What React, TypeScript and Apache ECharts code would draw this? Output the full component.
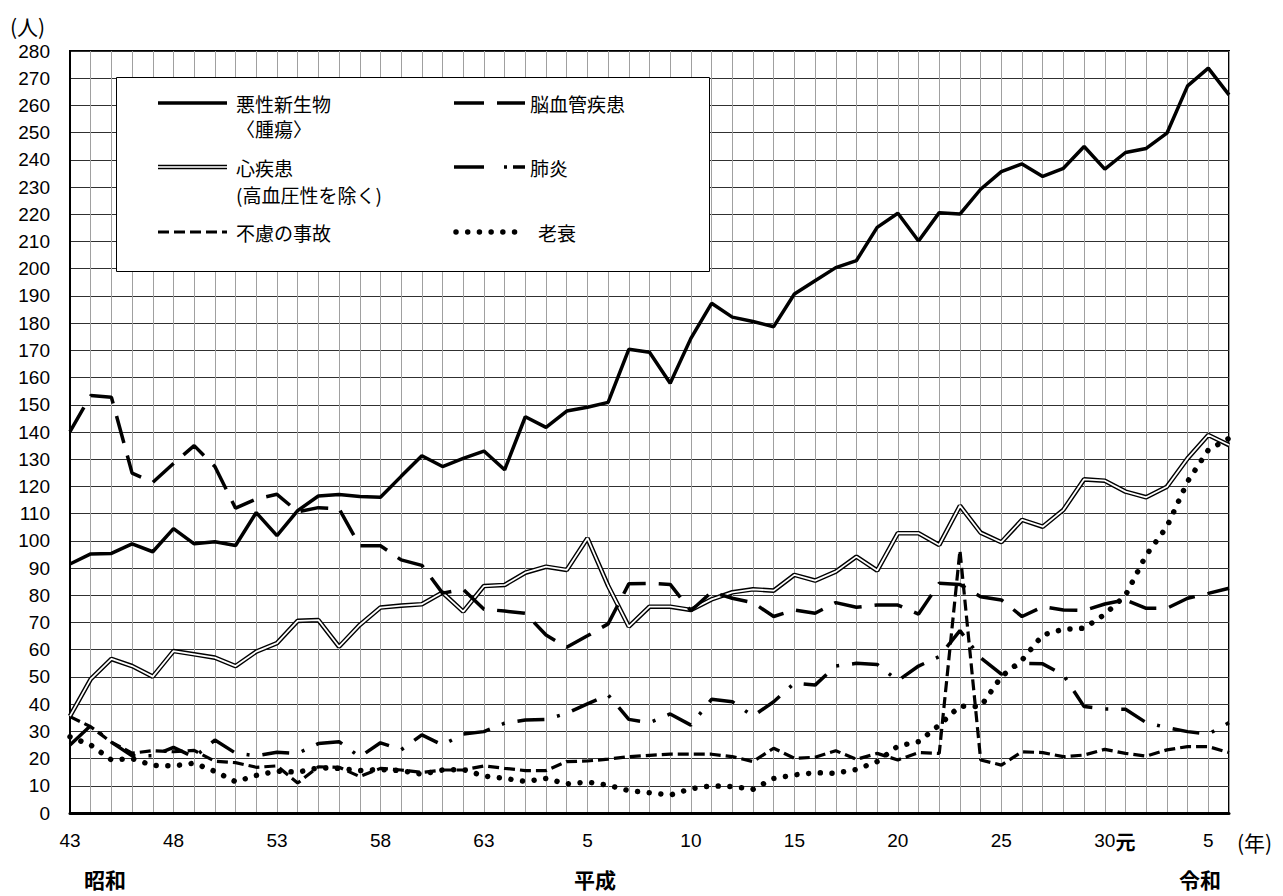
import React, { useEffect, useRef } from "react";
import * as echarts from "echarts";

// 昭和43年(1968) 〜 令和6年(2024)
const categories = [
  "43", "44", "45", "46", "47", "48", "49", "50", "51", "52", "53", "54", "55", "56", "57", "58", "59", "60", "61", "62", "63",
  "元", "2", "3", "4", "5", "6", "7", "8", "9", "10", "11", "12", "13", "14", "15", "16", "17", "18", "19", "20",
  "21", "22", "23", "24", "25", "26", "27", "28", "29", "30",
  "元", "2", "3", "4", "5", "6",
];

const shownLabelIndex = [0, 5, 10, 15, 20, 25, 30, 35, 40, 45, 50, 51, 55];

const akusei = [
  91.5, 95.2, 95.4, 98.9, 96.0, 104.5, 98.9, 99.7, 98.3, 110.4, 101.9, 111.1, 116.5, 117.0, 116.3, 116.0,
  123.7, 131.3, 127.3, 130.3, 133.0, 126.1, 145.6, 141.7, 147.7, 149.1, 150.9, 170.4, 169.3, 157.9, 174.4,
  187.3, 182.2, 180.6, 178.7, 190.7, 195.6, 200.4, 203.0, 215.2, 220.4, 210.2, 220.6, 220.1, 229.2, 235.7,
  238.5, 233.9, 236.9, 244.9, 236.6, 242.7, 244.2, 249.8, 267.2, 273.7, 263.9,
];

const nouKekkan = [
  140.1, 153.4, 152.8, 124.9, 121.5, 128.4, 135.0, 127.3, 112.0, 115.4, 117.1, 110.7, 112.2, 111.8, 98.2, 98.2,
  93.0, 91.0, 80.8, 82.2, 74.9, 74.2, 73.4, 65.4, 60.9, 65.1, 69.5, 84.2, 84.4, 84.0, 74.3, 81.2, 78.9, 77.3,
  72.2, 74.6, 73.4, 77.3, 75.6, 76.4, 76.4, 73.1, 84.4, 84.0, 79.5, 78.3, 72.2, 75.8, 74.6, 74.4, 76.8, 78.3,
  75.2, 75.2, 78.9, 80.7, 82.6,
];

const shinShikkan = [
  35.6, 49.2, 56.6, 54.0, 50.1, 59.5, 58.3, 57.1, 54.0, 59.3, 62.4, 70.6, 70.9, 61.1, 69.1, 75.5, 76.2, 76.7,
  81.0, 74.0, 83.4, 83.8, 88.3, 90.5, 89.3, 101.0, 83.5, 68.5, 75.8, 75.8, 74.6, 78.5, 81.1, 82.2, 81.7, 87.5,
  85.4, 88.7, 94.2, 89.1, 102.8, 102.8, 98.5, 112.9, 103.0, 99.5, 107.7, 105.2, 111.4, 122.6, 122.1, 118.1,
  116.0, 119.9, 130.3, 138.9, 135.2,
];

const haien = [
  25.0, 32.1, 26.0, 21.0, 21.0, 24.1, 20.5, 26.8, 22.0, 21.0, 22.3, 21.9, 25.5, 26.2, 20.6, 25.8, 23.2, 28.7,
  25.0, 29.0, 29.9, 33.0, 34.2, 34.4, 36.6, 40.1, 43.4, 34.4, 33.2, 36.4, 32.3, 41.8, 40.9, 35.6, 40.9, 47.7,
  47.0, 54.0, 55.0, 54.6, 48.6, 54.0, 57.5, 67.0, 57.0, 51.0, 55.0, 54.8, 50.7, 39.1, 38.2, 38.1, 33.2, 31.4,
  29.9, 29.0, 33.2,
];

const furyo = [
  35.4, 31.7, 26.0, 22.0, 22.9, 22.5, 23.0, 19.0, 18.5, 16.8, 17.3, 11.0, 17.0, 16.8, 13.4, 16.4, 15.8, 14.9,
  15.8, 15.8, 17.3, 16.4, 15.6, 15.6, 18.9, 19.1, 19.8, 20.7, 21.2, 21.6, 21.6, 21.6, 20.7, 18.9, 23.8, 20.1,
  20.5, 22.9, 19.7, 21.9, 19.5, 22.2, 21.9, 96.5, 19.5, 17.6, 22.5, 22.2, 20.7, 21.3, 23.4, 21.9, 20.9, 23.2,
  24.4, 24.4, 22.2,
];

const rousui = [
  28.0, 25.0, 19.5, 20.0, 17.5, 17.3, 18.3, 15.3, 11.5, 13.8, 15.4, 15.0, 16.6, 16.4, 15.6, 16.0, 15.6, 14.2,
  15.8, 16.0, 13.6, 12.7, 11.6, 12.7, 10.7, 11.4, 10.2, 8.2, 7.4, 6.6, 8.9, 10.0, 9.7, 8.7, 12.7, 14.0, 14.8,
  14.6, 16.0, 18.9, 24.6, 26.2, 32.3, 39.3, 39.1, 50.1, 56.2, 65.4, 67.5, 67.9, 73.0, 80.0, 94.8, 105.2, 121.8,
  133.4, 137.7,
];

const FONT_NUM = '"Liberation Sans", "Noto Sans CJK JP", sans-serif';
const FONT_JP = '"Noto Sans CJK JP", sans-serif';

const STYLE = {
  akusei: { color: "#000", width: 3.5, type: "solid" as any },
  nou: { color: "#000", width: 3.5, type: [28, 13], cap: "butt" },
  haien: { color: "#000", width: 3.5, type: [27, 13, 3, 13], cap: "butt" },
  furyo: { color: "#000", width: 3.2, type: [11, 5], cap: "butt" },
  rousui: { color: "#000", width: 5.5, type: [0.01, 11.7], cap: "round" },
};

export default function App() {
  const ref = useRef<HTMLDivElement>(null);

  useEffect(() => {
    const chart = echarts.init(ref.current as HTMLDivElement, null, { renderer: "svg" });

    const line = (name: string, data: number[], lineStyle: any, z: number) => ({
      type: "line",
      name,
      data,
      symbol: "none",
      silent: true,
      z,
      lineStyle,
    });

    const legendLine = (x1: number, x2: number, y: number, st: any) => ({
      type: "line",
      z: 102,
      shape: { x1, y1: y, x2, y2: y },
      style: {
        stroke: st.stroke || "#000",
        lineWidth: st.lineWidth,
        lineDash: st.lineDash,
        lineCap: st.lineCap || "butt",
      },
    });

    const legendText = (x: number, y: number, text: string) => ({
      type: "text",
      z: 102,
      x,
      y,
      style: {
        text,
        fill: "#000",
        font: `19px ${FONT_JP}`,
        textAlign: "left",
        textVerticalAlign: "middle",
      },
    });

    const eraText = (x: number, text: string) => ({
      type: "text",
      x,
      y: 879,
      style: {
        text,
        fill: "#000",
        font: `bold 21px ${FONT_JP}`,
        textAlign: "center",
        textVerticalAlign: "middle",
      },
    });

    chart.setOption({
      animation: false,
      backgroundColor: "#fff",
      grid: {
        left: 70,
        right: 54,
        top: 51,
        bottom: 83,
        show: true,
        borderColor: "#000",
        borderWidth: 2,
        backgroundColor: "transparent",
      },
      xAxis: {
        type: "category",
        data: categories,
        boundaryGap: false,
        axisLine: { show: true, lineStyle: { color: "#000", width: 3 } },
        axisTick: { show: false },
        splitLine: { show: true, interval: 0, lineStyle: { color: "#a0a0a0", width: 1 } },
        axisLabel: {
          interval: (idx: number) => shownLabelIndex.indexOf(idx) >= 0,
          formatter: (v: string) => (v === "元" ? "{b|元}" : v),
          color: "#000",
          fontSize: 19,
          fontFamily: FONT_NUM,
          margin: 18,
          rich: {
            b: { fontSize: 20, fontWeight: "bold", fontFamily: FONT_JP, color: "#000" },
          },
        },
      },
      yAxis: {
        type: "value",
        min: 0,
        max: 280,
        interval: 10,
        axisLine: { show: true, lineStyle: { color: "#000", width: 2 } },
        axisTick: { show: false },
        splitLine: { show: true, lineStyle: { color: "#303030", width: 1 } },
        axisLabel: {
          color: "#000",
          fontSize: 19,
          fontFamily: FONT_NUM,
          margin: 20,
        },
      },
      series: [
        line("老衰", rousui, STYLE.rousui, 3),
        line("不慮の事故", furyo, STYLE.furyo, 4),
        line("肺炎", haien, STYLE.haien, 5),
        line("心疾患（外枠）", shinShikkan, { color: "#000", width: 4.6 }, 6),
        line("心疾患", shinShikkan, { color: "#fff", width: 1.8 }, 7),
        line("脳血管疾患", nouKekkan, STYLE.nou, 8),
        line("悪性新生物", akusei, STYLE.akusei, 9),
      ],
      graphic: [
        {
          type: "text",
          x: 10,
          y: 26,
          style: { text: "(人)", fill: "#000", font: `21px ${FONT_JP}`, textAlign: "left", textVerticalAlign: "middle" },
        },
        {
          type: "text",
          x: 1237,
          y: 842,
          style: { text: "(年)", fill: "#000", font: `21px ${FONT_JP}`, textAlign: "left", textVerticalAlign: "middle" },
        },
        eraText(105, "昭和"),
        eraText(595, "平成"),
        eraText(1200, "令和"),
        // legend box
        {
          type: "rect",
          z: 100,
          shape: { x: 116.5, y: 77.5, width: 593, height: 194 },
          style: { fill: "#fff", stroke: "#000", lineWidth: 1 },
        },
        legendLine(158, 227, 103, { lineWidth: 3.5 }),
        legendText(236, 103, "悪性新生物"),
        legendText(236, 128, "〈腫瘍〉"),
        legendLine(158, 227, 167, { lineWidth: 4.6 }),
        legendLine(158, 227, 167, { lineWidth: 2, stroke: "#c8c8c8" }),
        legendText(236, 167, "心疾患"),
        legendText(236, 194, "(高血圧性を除く)"),
        legendLine(158, 227, 232, { lineWidth: 3.2, lineDash: [11, 5] }),
        legendText(236, 232, "不慮の事故"),
        legendLine(454, 525, 103, { lineWidth: 3.5, lineDash: [30, 13] }),
        legendText(530, 103, "脳血管疾患"),
        legendLine(454, 525, 167, { lineWidth: 3.5, lineDash: [30, 20, 3, 6] }),
        legendText(530, 167, "肺炎"),
        legendLine(456, 525, 232, { lineWidth: 5.5, lineDash: [0.01, 11.7], lineCap: "round" }),
        legendText(538, 232, "老衰"),
      ],
    });

    return () => {
      chart.dispose();
    };
  }, []);

  return (
    <div
      ref={ref}
      style={{ position: "fixed", left: 0, top: 0, width: 1283, height: 896, background: "#fff" }}
    />
  );
}
